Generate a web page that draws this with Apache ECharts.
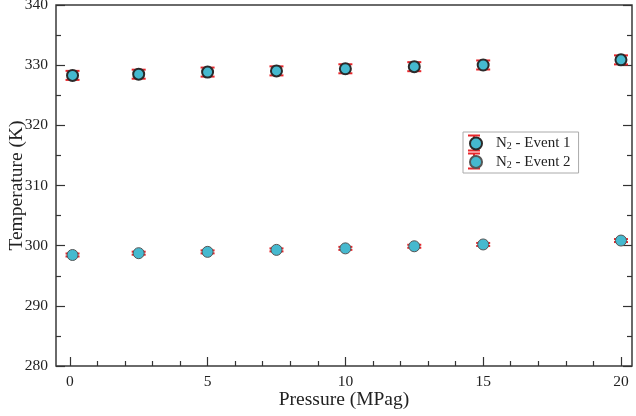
<!DOCTYPE html>
<html>
<head>
<meta charset="utf-8">
<script src="https://cdn.jsdelivr.net/npm/echarts@6/dist/echarts.min.js"></script>
<style>html,body{margin:0;padding:0;background:#fff}#c{width:636px;height:416px}</style>
</head>
<body>
<div id="c"></div>
<script>
const pressure = [0.1, 2.5, 5, 7.5, 10, 12.5, 15, 20];
const event1 = [328.3, 328.5, 328.85, 329.05, 329.4, 329.75, 330.03, 330.88];
const event2 = [298.45, 298.75, 298.97, 299.3, 299.55, 299.9, 300.2, 300.85];
const err1 = [0.75, 0.75, 0.75, 0.75, 0.75, 0.75, 0.75, 0.75];
const err2 = [0.25, 0.25, 0.25, 0.25, 0.25, 0.25, 0.25, 0.25];
const xMajor = [0, 5, 10, 15, 20];
const xMinor = [1, 2, 3, 4, 6, 7, 8, 9, 11, 12, 13, 14, 16, 17, 18, 19];
const seriesNames = ['N2 - Event 1', 'N2 - Event 2'];

const FONT = 'Liberation Serif';
const TXT = '#222';
const FILL = '#45b9cf';

function pts(ys, es) { return pressure.map((x, i) => [x, ys[i], es[i]]); }

function errRender(params, api) {
  const x = api.value(0), y = api.value(1), e = api.value(2);
  const hi = api.coord([x, y + e]);
  const lo = api.coord([x, y - e]);
  const w = 7;
  const st = { stroke: '#e8262b', lineWidth: 2 };
  return {
    type: 'group',
    children: [
      { type: 'line', shape: { x1: hi[0], y1: hi[1], x2: lo[0], y2: lo[1] }, style: st },
      { type: 'line', shape: { x1: hi[0] - w, y1: hi[1], x2: hi[0] + w, y2: hi[1] }, style: st },
      { type: 'line', shape: { x1: lo[0] - w, y1: lo[1], x2: lo[0] + w, y2: lo[1] }, style: st }
    ]
  };
}

const chart = echarts.init(document.getElementById('c'), null, { renderer: 'canvas' });
const tickStyle = { color: '#333', width: 1.2 };
const xBase = { type: 'value', min: -0.5, max: 20.4, splitLine: { show: false } };
const yBase = { type: 'value', min: 280, max: 340, interval: 10, splitLine: { show: false } };

const legendRed = { stroke: '#e8262b', lineWidth: 2 };
const lx = 474, ly1 = 143, ly2 = 161, lh = 7.5, lw = 6;
function legBars(cy) {
  return [
    { type: 'line', shape: { x1: lx, y1: cy - lh, x2: lx, y2: cy + lh }, style: legendRed, z: 1 },
    { type: 'line', shape: { x1: lx - lw, y1: cy - lh, x2: lx + lw, y2: cy - lh }, style: legendRed, z: 1 },
    { type: 'line', shape: { x1: lx - lw, y1: cy + lh, x2: lx + lw, y2: cy + lh }, style: legendRed, z: 1 }
  ];
}

chart.setOption({
  animation: false,
  backgroundColor: '#fff',
  textStyle: { fontFamily: FONT },
  grid: { left: 56, right: 4, top: 5, bottom: 50, containLabel: false, outerBoundsMode: 'none',
          show: true, borderColor: '#3a3a3a', borderWidth: 1.5 },
  xAxis: [
    Object.assign({}, xBase, {
      position: 'bottom',
      name: 'Pressure (MPag)', nameLocation: 'middle', nameGap: 24, nameMoveOverlap: false,
      nameTextStyle: { fontFamily: FONT, fontSize: 19.5, color: TXT },
      axisLine: { show: false, onZero: false },
      axisTick: { show: true, inside: true, length: 9, lineStyle: tickStyle, customValues: xMajor },
      axisLabel: { show: true, customValues: xMajor, fontFamily: FONT, fontSize: 15.5, color: TXT, margin: 8 }
    }),
    Object.assign({}, xBase, {
      position: 'bottom',
      axisLine: { show: false, onZero: false },
      axisTick: { show: true, inside: true, length: 5, lineStyle: tickStyle, customValues: xMinor },
      axisLabel: { show: false }
    })
  ],
  yAxis: [
    Object.assign({}, yBase, {
      position: 'left',
      name: 'Temperature (K)', nameLocation: 'middle', nameGap: 29, nameMoveOverlap: false,
      nameTextStyle: { fontFamily: FONT, fontSize: 19.5, color: TXT },
      axisLine: { show: false, onZero: false },
      axisTick: { show: true, inside: true, length: 9, lineStyle: tickStyle },
      minorTick: { show: true, splitNumber: 2, length: 5, lineStyle: tickStyle },
      axisLabel: { fontFamily: FONT, fontSize: 15.5, color: TXT, margin: 8 }
    }),
    Object.assign({}, yBase, {
      position: 'right',
      axisLine: { show: false, onZero: false },
      axisTick: { show: true, inside: true, length: 9, lineStyle: tickStyle },
      minorTick: { show: true, splitNumber: 2, length: 5, lineStyle: tickStyle },
      axisLabel: { show: false }
    })
  ],
  legend: {
    data: seriesNames,
    orient: 'vertical',
    left: 463, top: 132,
    padding: [4, 8, 3, 6],
    itemGap: 3,
    itemWidth: 12, itemHeight: 12,
    borderColor: '#aaa', borderWidth: 1,
    backgroundColor: 'transparent',
    formatter: function (n) { return n.replace('N2', 'N{sub|2}'); },
    textStyle: {
      fontFamily: FONT, fontSize: 15, color: TXT, padding: [0, 0, 0, 9],
      rich: { sub: { fontFamily: FONT, fontSize: 10, color: TXT, verticalAlign: 'bottom', padding: [6, 0, 0, 0] } }
    },
    z: 5
  },
  graphic: legBars(ly1).concat(legBars(ly2)),
  series: [
    { name: 'err1', type: 'custom', renderItem: errRender, data: pts(event1, err1), z: 2, silent: true },
    { name: 'err2', type: 'custom', renderItem: errRender, data: pts(event2, err2), z: 2, silent: true },
    {
      name: seriesNames[0], type: 'scatter', symbol: 'circle', symbolSize: 11, z: 3,
      itemStyle: { color: FILL, borderColor: '#2a2a2a', borderWidth: 2, opacity: 1 },
      data: pressure.map((x, i) => [x, event1[i]])
    },
    {
      name: seriesNames[1], type: 'scatter', symbol: 'circle', symbolSize: 11, z: 3,
      itemStyle: { color: FILL, borderColor: '#555', borderWidth: 1, opacity: 1 },
      data: pressure.map((x, i) => [x, event2[i]])
    }
  ]
});
</script>
</body>
</html>
